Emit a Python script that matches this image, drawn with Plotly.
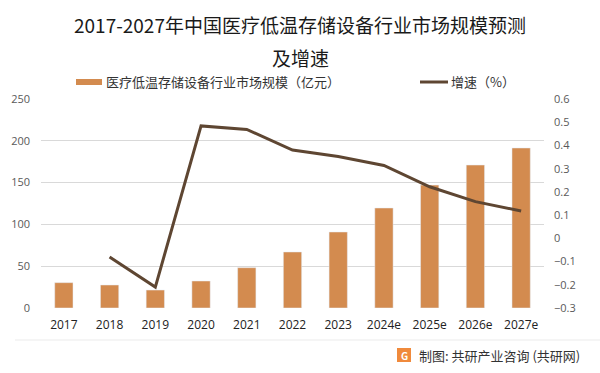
import plotly.graph_objects as go

years = ["2017", "2018", "2019", "2020", "2021", "2022", "2023", "2024e", "2025e", "2026e", "2027e"]
market_size = [30.3, 27.5, 21.5, 32.3, 48.2, 67.0, 90.9, 119.6, 147.0, 171.0, 191.4]
growth_years = years[1:]
growth = [-0.08, -0.21, 0.484, 0.469, 0.38, 0.352, 0.314, 0.222, 0.158, 0.118]

bar_name = "医疗低温存储设备行业市场规模（亿元）"
line_name = "增速（%）"
title_l1 = "2017-2027年中国医疗低温存储设备行业市场规模预测"
title_l2 = "及增速"
footer = "制图: 共研产业咨询 (共研网)"

FONT = "Noto Sans CJK SC"
BAR_C = "#D38B4F"
LINE_C = "#5E4632"

W, H = 600, 373
ML, MR, MT, MB = 41, 56, 99, 65
pw = W - ML - MR
ph = H - MT - MB


def px(pix):
    return (pix - ML) / pw


def py(pix):
    return (H - MB - pix) / ph


fig = go.Figure()
fig.add_trace(go.Bar(x=years, y=market_size, name=bar_name, marker_color=BAR_C,
                     yaxis="y", showlegend=False))
fig.add_trace(go.Scatter(x=growth_years, y=growth, name=line_name, mode="lines",
                         line=dict(color=LINE_C, width=3), yaxis="y2", showlegend=False))

fig.update_layout(
    width=W, height=H,
    margin=dict(l=ML, r=MR, t=MT, b=MB, autoexpand=False),
    paper_bgcolor="white", plot_bgcolor="white",
    font=dict(family=FONT, size=12, color="#595959"),
    bargap=0.6,
    showlegend=False,
    xaxis=dict(type="category", showgrid=False, showline=False, ticks="",
               ticklabelstandoff=8,
               tickfont=dict(family="Open Sans", size=12, color="#222222")),
    yaxis=dict(range=[0, 250], dtick=50, showgrid=True, gridcolor="#D9D9D9",
               gridwidth=1, zeroline=False, showline=False, ticks="",
               ticklabelstandoff=10,
               tickfont=dict(family="Open Sans", size=11, color="#595959")),
    yaxis2=dict(range=[-0.3, 0.6], dtick=0.1, overlaying="y", side="right",
                showgrid=False, zeroline=False, showline=False, ticks="",
                tickformat=".1~f", ticklabelstandoff=9,
                tickfont=dict(family="Open Sans", size=11, color="#595959")),
)

# title (two lines)
fig.add_annotation(text=title_l1, xref="paper", yref="paper", x=px(300), y=py(25),
                   xanchor="center", yanchor="middle", showarrow=False,
                   font=dict(size=19, color="#1A1A1A", family=FONT))
fig.add_annotation(text=title_l2, xref="paper", yref="paper", x=px(300), y=py(57),
                   xanchor="center", yanchor="middle", showarrow=False,
                   font=dict(size=19, color="#1A1A1A", family=FONT))

# legend
fig.add_shape(type="rect", xref="paper", yref="paper", x0=px(76), x1=px(102),
              y0=py(85), y1=py(79), fillcolor=BAR_C, line=dict(width=0))
fig.add_annotation(text=bar_name, xref="paper", yref="paper", x=px(104), y=py(82),
                   xanchor="left", yanchor="middle", showarrow=False,
                   font=dict(size=13, color="#333333", family=FONT))
fig.add_shape(type="line", xref="paper", yref="paper", x0=px(420), x1=px(448),
              y0=py(82), y1=py(82), line=dict(color=LINE_C, width=3))
fig.add_annotation(text=line_name, xref="paper", yref="paper", x=px(449), y=py(82),
                   xanchor="left", yanchor="middle", showarrow=False,
                   font=dict(size=13, color="#333333", family=FONT))

# footer
fig.add_shape(type="line", xref="paper", yref="paper", x0=px(15), x1=px(600),
              y0=py(340), y1=py(340), line=dict(color="#EBEBEB", width=1))
fig.add_shape(type="rect", xref="paper", yref="paper", x0=px(397), x1=px(411),
              y0=py(362), y1=py(348), fillcolor="#F08A3C", line=dict(width=0))
fig.add_annotation(text="<b>G</b>", xref="paper", yref="paper", x=px(404), y=py(355),
                   xanchor="center", yanchor="middle", showarrow=False,
                   font=dict(size=10, color="white", family=FONT))
fig.add_annotation(text=footer, xref="paper", yref="paper", x=px(417), y=py(355),
                   xanchor="left", yanchor="middle", showarrow=False,
                   font=dict(size=13, color="#333333", family=FONT))

fig.write_html("out.html", config={"displayModeBar": False},
               post_script="document.body.style.margin='0';document.body.style.overflow='hidden';")
